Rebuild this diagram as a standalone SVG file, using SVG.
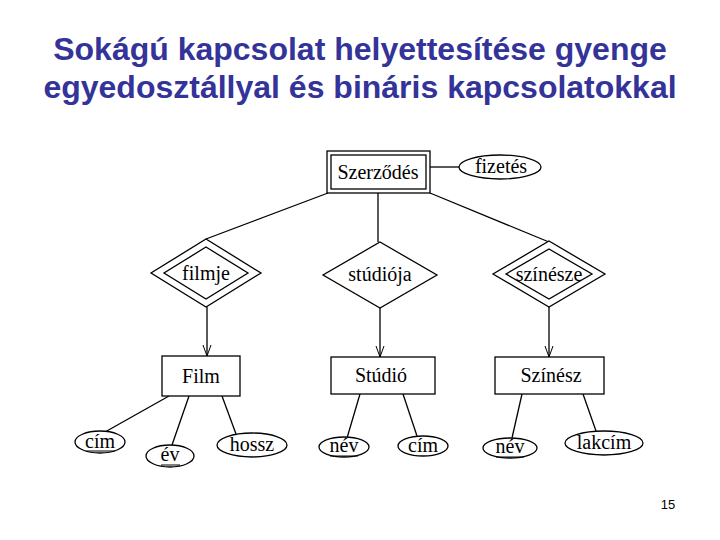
<svg xmlns="http://www.w3.org/2000/svg" width="720" height="540" viewBox="0 0 720 540">
<style>
.title{font-family:"Liberation Sans",Arial,sans-serif;font-weight:bold;font-size:32px;fill:#333399;text-anchor:middle}
.lbl{font-family:"Liberation Serif","Times New Roman",serif;font-size:20px;fill:#000;text-anchor:middle}
.shape{fill:#fff;stroke:#000;stroke-width:1.3}
.conn{stroke:#000;stroke-width:1.3;fill:none}
.ul{stroke:#000;stroke-width:1}
.pg{font-family:"Liberation Sans",Arial,sans-serif;font-size:13px;fill:#000;text-anchor:middle}
</style>
<defs>
<marker id="arr" markerWidth="12" markerHeight="10" refX="11" refY="5" orient="auto" markerUnits="userSpaceOnUse" viewBox="0 0 12 10">
<path d="M0,1 L11,5 L0,9" fill="none" stroke="#000" stroke-width="1"/>
</marker>
</defs>
<rect width="720" height="540" fill="#fff"/>
<text class="title" x="360" y="60">Sokágú kapcsolat helyettesítése gyenge</text>
<text class="title" x="360" y="98">egyedosztállyal és bináris kapcsolatokkal</text>

<g id="connectors">
<line class="conn" x1="430" y1="167" x2="460" y2="167"/>
<line class="conn" x1="328" y1="193" x2="206" y2="239"/>
<line class="conn" x1="378" y1="193" x2="378" y2="242"/>
<line class="conn" x1="430" y1="193" x2="549" y2="242"/>
<line class="conn" x1="207" y1="307" x2="207" y2="356" marker-end="url(#arr)"/>
<line class="conn" x1="380" y1="308" x2="380" y2="357" marker-end="url(#arr)"/>
<line class="conn" x1="549" y1="307" x2="549" y2="357" marker-end="url(#arr)"/>
<line class="conn" x1="169" y1="396" x2="105" y2="432"/>
<line class="conn" x1="189" y1="396" x2="172" y2="445"/>
<line class="conn" x1="222" y1="396" x2="236" y2="434"/>
<line class="conn" x1="360" y1="394" x2="347" y2="438"/>
<line class="conn" x1="403" y1="394" x2="417" y2="436"/>
<line class="conn" x1="522" y1="394" x2="512" y2="438"/>
<line class="conn" x1="583" y1="394" x2="596" y2="431"/>
</g>

<g id="szerzodes">
<rect class="shape" x="327" y="151" width="103" height="42"/>
<rect class="shape" x="331" y="155" width="95" height="34"/>
<text class="lbl" x="378" y="179">Szerződés</text>
</g>
<g id="fizetes">
<ellipse class="shape" cx="500" cy="167" rx="41" ry="12"/>
<text class="lbl" x="501" y="173">fizetés</text>
</g>

<g id="filmje">
<polygon class="shape" points="206,239 261,273 206,307 151,273"/>
<polygon class="shape" points="206,247 248,273 206,299 164,273"/>
<text class="lbl" x="206" y="280">filmje</text>
</g>
<g id="studioja">
<polygon class="shape" points="380,242 437,275 380,308 323,275"/>
<text class="lbl" x="380" y="281">stúdiója</text>
</g>
<g id="szinesze">
<polygon class="shape" points="549,241 605,274 549,307 493,274"/>
<polygon class="shape" points="549,249 592,274 549,299 506,274"/>
<text class="lbl" x="549" y="281">színésze</text>
</g>

<g id="film">
<rect class="shape" x="162" y="356" width="78" height="40"/>
<text class="lbl" x="201" y="383">Film</text>
</g>
<g id="studio">
<rect class="shape" x="331" y="357" width="104" height="37"/>
<text class="lbl" x="381" y="382">Stúdió</text>
</g>
<g id="szinesz">
<rect class="shape" x="495" y="357" width="109" height="37"/>
<text class="lbl" x="551" y="382">Színész</text>
</g>

<g id="film-cim">
<ellipse class="shape" cx="100" cy="442" rx="25" ry="11"/>
<text class="lbl" x="100" y="448">cím</text>
<line class="ul" x1="86" y1="451" x2="115" y2="451"/>
</g>
<g id="film-ev">
<ellipse class="shape" cx="170" cy="456" rx="24" ry="11"/>
<text class="lbl" x="170" y="461">év</text>
<line class="ul" x1="161" y1="465" x2="180" y2="465"/>
</g>
<g id="film-hossz">
<ellipse class="shape" cx="252" cy="445" rx="35" ry="12"/>
<text class="lbl" x="252" y="451">hossz</text>
</g>
<g id="studio-nev">
<ellipse class="shape" cx="344" cy="447" rx="25" ry="10"/>
<text class="lbl" x="344" y="452">név</text>
<line class="ul" x1="330" y1="456" x2="358" y2="456"/>
</g>
<g id="studio-cim">
<ellipse class="shape" cx="423" cy="446" rx="25" ry="10"/>
<text class="lbl" x="423" y="452">cím</text>
</g>
<g id="szinesz-nev">
<ellipse class="shape" cx="510" cy="448" rx="27" ry="10"/>
<text class="lbl" x="510" y="453">név</text>
<line class="ul" x1="496" y1="457" x2="524" y2="457"/>
</g>
<g id="szinesz-lakcim">
<ellipse class="shape" cx="604" cy="443" rx="39" ry="12"/>
<text class="lbl" x="604" y="449">lakcím</text>
</g>

<text class="pg" x="668" y="509">15</text>
</svg>
